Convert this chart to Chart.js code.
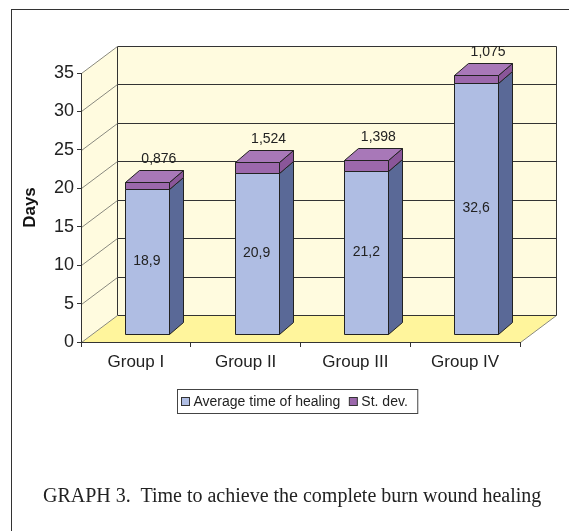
<!DOCTYPE html>
<html>
<head>
<meta charset="utf-8">
<script src="https://cdn.jsdelivr.net/npm/chart.js@4"></script>
<style>
  body { margin: 0; background: #fff; }
  #wrap { position: relative; width: 569px; height: 531px; overflow: hidden; }
  #frame { position: absolute; left: 11px; top: 9px; width: 600px; height: 600px; border-left: 1px solid #333; border-top: 1px solid #333; }
  #caption { position: absolute; left: 43px; top: 484px; font-family: "Liberation Serif", serif; font-size: 20px; color: #222; white-space: pre; }
  canvas { position: absolute; left: 0; top: 0; }
</style>
</head>
<body>
<div id="wrap">
  <div id="frame"></div>
  <canvas id="myChart" width="569" height="531"></canvas>
  <div id="caption">GRAPH 3.  Time to achieve the complete burn wound healing</div>
</div>
<script>
var groups = ["Group I", "Group II", "Group III", "Group IV"];
var avgHealing = [18.9, 20.9, 21.2, 32.6];
var stDev = [0.876, 1.524, 1.398, 1.075];
var seriesNames = ["Average time of healing", "St. dev."];
var yMax = 35;
var yStep = 5;

// depth of the walls and of the bars (px)
var DX = 36, DY = -27;
var BX = 11, BY = -8;
var BDX = 14, BDY = -12;

var faces = [
  { front: "#afbde3", side: "#5a6997", top: "#c3cdee" },
  { front: "#9c68ac", side: "#8a5699", top: "#a878b8" }
];

var FONT = "'Liberation Sans', Arial, sans-serif";

function comma(v) {
  return String(v).replace(".", ",");
}

function poly(ctx, pts, fill, stroke) {
  ctx.beginPath();
  ctx.moveTo(pts[0][0], pts[0][1]);
  for (var i = 1; i < pts.length; i++) ctx.lineTo(pts[i][0], pts[i][1]);
  ctx.closePath();
  if (fill) { ctx.fillStyle = fill; ctx.fill(); }
  if (stroke) { ctx.strokeStyle = stroke; ctx.lineWidth = 1; ctx.stroke(); }
}

var walls = {
  id: "walls",
  beforeDraw: function(chart) {
    var ctx = chart.ctx;
    var xs = chart.scales.x, ys = chart.scales.y;
    var l = xs.left, r = xs.right, t = ys.top, b = ys.bottom;
    ctx.save();
    ctx.translate(0.5, 0.5);
    // left wall
    poly(ctx, [[l, b], [l, t], [l + DX, t + DY], [l + DX, b + DY]], "#fffbdf", null);
    // floor
    poly(ctx, [[l, b], [r, b], [r + DX, b + DY], [l + DX, b + DY]], "#fff59c", null);
    ctx.strokeStyle = "#8a8a80";
    ctx.beginPath();
    ctx.moveTo(r, b); ctx.lineTo(r + DX, b + DY);
    ctx.stroke();
    // back wall
    poly(ctx, [[l + DX, t + DY], [r + DX, t + DY], [r + DX, b + DY], [l + DX, b + DY]], "#fffbdf", "#333");
    // grid lines on the back wall and the left wall
    ys.ticks.forEach(function(tk) {
      var y = Math.round(ys.getPixelForValue(tk.value));
      ctx.strokeStyle = "#8a8a80";
      ctx.beginPath();
      ctx.moveTo(l, y); ctx.lineTo(l + DX, y + DY);
      ctx.stroke();
      if (tk.value > 0 && tk.value < yMax) {
        ctx.strokeStyle = "#333";
        ctx.beginPath();
        ctx.moveTo(l + DX, y + DY); ctx.lineTo(r + DX, y + DY);
        ctx.stroke();
      }
    });
    ctx.restore();
  }
};

function drawValueLabels(chart) {
  var ctx = chart.ctx;
  ctx.save();
  ctx.font = "14px " + FONT;
  ctx.fillStyle = "#222";
  ctx.textAlign = "center";
  ctx.textBaseline = "middle";
  for (var i = 0; i < groups.length; i++) {
    var a = chart.getDatasetMeta(0).data[i].getProps(["x", "y", "base"], true);
    ctx.fillText(comma(avgHealing[i]), a.x + BX, (a.y + a.base) / 2 + BY);
    var s = chart.getDatasetMeta(1).data[i].getProps(["x", "y"], true);
    ctx.fillText(comma(stDev[i]), s.x + BX + BDX / 2 + 5, s.y + BY + BDY - 11);
  }
  ctx.restore();
}

var bars3d = {
  id: "bars3d",
  beforeDatasetsDraw: function(chart) {
    var ctx = chart.ctx;
    ctx.save();
    ctx.translate(0.5, 0.5);
    for (var i = 0; i < groups.length; i++) {
      for (var d = 0; d < chart.data.datasets.length; d++) {
        var el = chart.getDatasetMeta(d).data[i];
        var p = el.getProps(["x", "y", "base", "width"], true);
        var x0 = Math.round(p.x - p.width / 2 + BX);
        var x1 = Math.round(p.x + p.width / 2 + BX);
        var yt = Math.round(p.y + BY);
        var yb = Math.round(p.base + BY);
        var f = faces[d];
        poly(ctx, [[x0, yb], [x1, yb], [x1, yt], [x0, yt]], f.front, "#222");
        poly(ctx, [[x1, yb], [x1 + BDX, yb + BDY], [x1 + BDX, yt + BDY], [x1, yt]], f.side, "#222");
        if (d === chart.data.datasets.length - 1) {
          poly(ctx, [[x0, yt], [x1, yt], [x1 + BDX, yt + BDY], [x0 + BDX, yt + BDY]], f.top, "#222");
        }
      }
    }
    ctx.restore();
    drawValueLabels(chart);
    return false;
  },
  afterDraw: function(chart) {
    // legend box under the axis
    var ctx = chart.ctx;
    ctx.save();
    ctx.font = "14px " + FONT;
    ctx.textBaseline = "middle";
    var box = 8, gap = 8, pad = 4, between = 5;
    var w = pad;
    seriesNames.forEach(function(n, k) {
      w += box + gap + ctx.measureText(n).width + (k < seriesNames.length - 1 ? between : 0);
    });
    w += pad + 2;
    var left = Math.round((chart.scales.x.left + chart.scales.x.right) / 2 - w / 2) - 2.5;
    var top = 389.5, h = 24;
    ctx.fillStyle = "#fff";
    ctx.fillRect(left, top, w, h);
    ctx.strokeStyle = "#444";
    ctx.lineWidth = 1;
    ctx.strokeRect(left, top, w, h);
    var x = left + pad;
    var cy = top + h / 2;
    seriesNames.forEach(function(n, k) {
      ctx.fillStyle = faces[k].front;
      ctx.fillRect(x, cy - box / 2, box, box);
      ctx.strokeStyle = "#333";
      ctx.strokeRect(x, cy - box / 2, box, box);
      x += box + gap - 4;
      ctx.fillStyle = "#222";
      ctx.fillText(n, x, cy + 1);
      x += ctx.measureText(n).width + between + 4;
    });
    ctx.restore();
  }
};

new Chart("myChart", {
  type: "bar",
  data: {
    labels: groups,
    datasets: [
      { label: seriesNames[0], data: avgHealing, backgroundColor: faces[0].front },
      { label: seriesNames[1], data: stDev, backgroundColor: faces[1].front }
    ]
  },
  options: {
    responsive: false,
    animation: false,
    devicePixelRatio: 1,
    layout: { padding: { left: 0, right: 49, top: 73, bottom: 159 } },
    datasets: { bar: { categoryPercentage: 1, barPercentage: 0.4 } },
    plugins: {
      legend: { display: false },
      tooltip: { enabled: false }
    },
    scales: {
      x: {
        stacked: true,
        afterFit: function(s) { s.height = 30; },
        grid: { drawOnChartArea: false, drawTicks: true, tickLength: 5, color: "#333" },
        border: { color: "#333" },
        ticks: { color: "#222", padding: 5, font: { family: FONT, size: 17 } }
      },
      y: {
        stacked: true,
        min: 0,
        max: yMax,
        afterFit: function(s) { s.width = 81; },
        grid: { drawOnChartArea: false, drawTicks: true, tickLength: 4, color: "#333" },
        border: { color: "#333" },
        ticks: { stepSize: yStep, color: "#222", padding: 3, font: { family: FONT, size: 18 } },
        title: { display: true, text: "Days", color: "#111", padding: { top: 20, bottom: 0 }, font: { family: FONT, size: 17, weight: "bold" } }
      }
    }
  },
  plugins: [walls, bars3d]
});
</script>
</body>
</html>
